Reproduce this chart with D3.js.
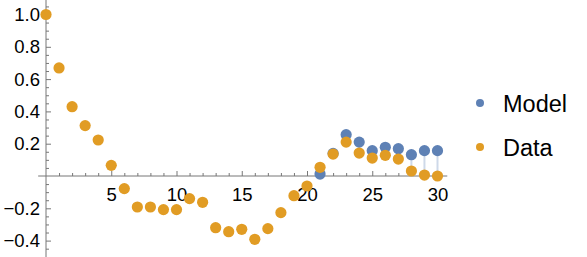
<!DOCTYPE html>
<html>
<head>
<meta charset="utf-8">
<script src="https://cdn.jsdelivr.net/npm/d3@7"></script>
<style>
  body { margin: 0; background: #fff; }
  svg { display: block; font-family: "Liberation Sans", Arial, sans-serif; }
  .axis path { display: none; }
  .axis line { stroke: #777; }
  .axis text { fill: #000; font-size: 18.5px; }
</style>
</head>
<body>
<svg id="chart" width="587" height="257"></svg>
<script>
"use strict";
// data
const dataX = [0,1,2,3,4,5,6,7,8,9,10,11,12,13,14,15,16,17,18,19,20,21,22,23,24,25,26,27,28,29,30];
const dataY = [1.0,0.669,0.429,0.312,0.223,0.066,-0.078,-0.192,-0.192,-0.208,-0.208,-0.14,-0.163,-0.32,-0.345,-0.33,-0.392,-0.326,-0.227,-0.122,-0.062,0.054,0.136,0.21,0.142,0.111,0.128,0.105,0.031,0.006,0.0];
const modelX = [21,22,23,24,25,26,27,28,29,30];
const modelY = [0.012,0.14,0.256,0.21,0.157,0.178,0.169,0.132,0.157,0.157];
const xMajor = [5,10,15,20,25,30];
const yMajor = [-0.4,-0.2,0.2,0.4,0.6,0.8,1.0];
const seriesNames = ["Model","Data"];
const COLORS = { model: "#5E81B5", data: "#E19C24" };

const svg = d3.select("#chart");
const x = d3.scaleLinear().domain([0, 30]).range([46, 437.5]);
const y = d3.scaleLinear().domain([0, 1]).range([176, 14.5]);

const xMinor = d3.range(1, 31).filter(d => d % 5 !== 0);
const yMinor = d3.range(-0.45, 1.06, 0.05).map(d => +d.toFixed(2))
  .filter(d => Math.abs(Math.round(d * 5) - d * 5) > 1e-6);

// axis lines
svg.append("line")
  .attr("x1", x(-0.6)).attr("x2", x(30.75))
  .attr("y1", y(0)).attr("y2", y(0))
  .style("stroke", "#777");
svg.append("line")
  .attr("x1", x(0)).attr("x2", x(0))
  .attr("y1", 0).attr("y2", 257)
  .style("stroke", "#777");

// x axis - minor then major
svg.append("g").attr("class", "axis")
  .attr("transform", `translate(0,${y(0)})`)
  .call(d3.axisBottom(x).tickValues(xMinor).tickSize(-3).tickFormat(""));
svg.append("g").attr("class", "axis")
  .attr("transform", `translate(0,${y(0)})`)
  .call(d3.axisBottom(x).tickValues(xMajor).tickSize(-5).tickPadding(12).tickFormat(d3.format("d")));

// y axis
svg.append("g").attr("class", "axis")
  .attr("transform", `translate(${x(0)},0)`)
  .call(d3.axisLeft(y).tickValues(yMinor).tickSize(-3).tickFormat(""));
svg.append("g").attr("class", "axis")
  .attr("transform", `translate(${x(0)},0)`)
  .call(d3.axisLeft(y).tickValues(yMajor).tickSize(-5).tickPadding(6).tickFormat(d3.format(".1f")));

// filling between model and data
const dataByX = new Map(dataX.map((d, i) => [d, dataY[i]]));
svg.append("g").selectAll("line")
  .data(modelX.map((d, i) => ({ x: d, m: modelY[i], d: dataByX.get(d) })))
  .enter().append("line")
  .attr("x1", d => x(d.x)).attr("x2", d => x(d.x))
  .attr("y1", d => y(d.m)).attr("y2", d => y(d.d))
  .style("stroke", COLORS.model)
  .style("stroke-opacity", 0.3)
  .style("stroke-width", 2);

// points
svg.append("g").selectAll("circle")
  .data(modelX.map((d, i) => [d, modelY[i]]))
  .enter().append("circle")
  .attr("cx", d => x(d[0])).attr("cy", d => y(d[1]))
  .attr("r", 5.6)
  .style("fill", COLORS.model);
svg.append("g").selectAll("circle")
  .data(dataX.map((d, i) => [d, dataY[i]]))
  .enter().append("circle")
  .attr("cx", d => x(d[0])).attr("cy", d => y(d[1]))
  .attr("r", 5.6)
  .style("fill", COLORS.data);

// legend
const legend = svg.append("g");
[COLORS.model, COLORS.data].forEach((c, i) => {
  legend.append("circle")
    .attr("cx", 480).attr("cy", 103 + i * 44)
    .attr("r", 4)
    .style("fill", c);
  legend.append("text")
    .attr("x", 503).attr("y", 111.5 + i * 44)
    .style("font-size", "23.5px")
    .text(seriesNames[i]);
});
</script>
</body>
</html>
